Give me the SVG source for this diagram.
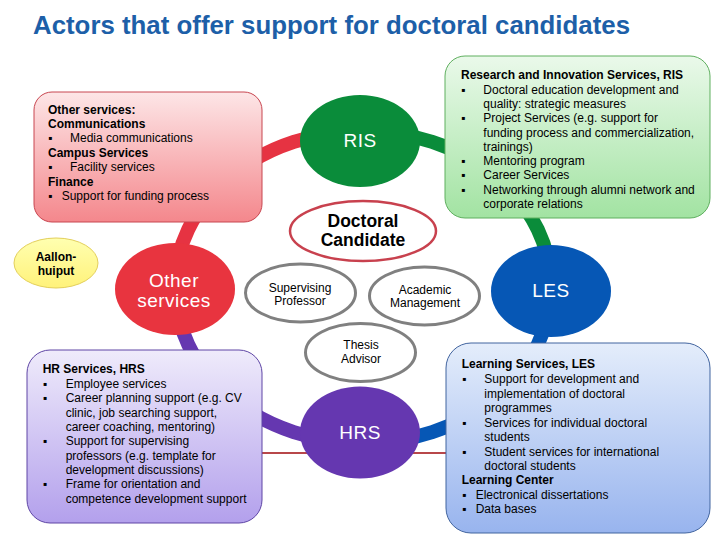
<svg xmlns="http://www.w3.org/2000/svg" width="720" height="540" viewBox="0 0 720 540">
<defs>
<linearGradient id="gRed" x1="0" y1="0" x2="0" y2="1"><stop offset="0" stop-color="#FDE6E7"/><stop offset="1" stop-color="#F4878C"/></linearGradient>
<linearGradient id="gGreen" x1="0" y1="0" x2="0" y2="1"><stop offset="0" stop-color="#EAF9EA"/><stop offset="1" stop-color="#A2E3A2"/></linearGradient>
<linearGradient id="gPurple" x1="0" y1="0" x2="0" y2="1"><stop offset="0" stop-color="#EFEBFB"/><stop offset="1" stop-color="#B3A0EC"/></linearGradient>
<linearGradient id="gBlue" x1="0" y1="0" x2="0" y2="1"><stop offset="0" stop-color="#E4EDFB"/><stop offset="1" stop-color="#98B4EE"/></linearGradient>
<linearGradient id="gYellow" x1="0" y1="0" x2="0" y2="1"><stop offset="0" stop-color="#FFFFB0"/><stop offset="1" stop-color="#FFF27A"/></linearGradient>
</defs>
<style>
text{font-family:"Liberation Sans",Arial,sans-serif;font-size:12px;fill:#000}
.b{font-weight:bold}
.ring{fill:none;stroke-width:14}
.c{font-size:19px;fill:#fff;text-anchor:middle;letter-spacing:0.5px}
.m{text-anchor:middle}
.actor{fill:#fff;stroke:#808080;stroke-width:3}
</style>
<text x="33" y="34" style="font-size:26px;font-weight:bold;fill:#1D5FA8" textLength="597" lengthAdjust="spacingAndGlyphs">Actors that offer support for doctoral candidates</text>

<g id="connectors">
<path class="ring" stroke="#E63342" d="M175,287 A188,156 0 0 1 363,131"/>
<path class="ring" stroke="#0A8C3A" d="M363,131 A188,156 0 0 1 551,287"/>
<path class="ring" stroke="#0657B5" d="M551,287 A188,156 0 0 1 363,443"/>
<path class="ring" stroke="#6537B0" d="M363,443 A188,156 0 0 1 175,287"/>
<line x1="262" y1="453" x2="447" y2="453" stroke="#B8474A" stroke-width="2"/>
</g>

<g id="box-other">
<rect x="34" y="92" width="228" height="130" rx="18" fill="url(#gRed)" stroke="#C84650" stroke-width="1"/>
<text class="b" x="48" y="113.5">Other services:</text>
<text class="b" x="48" y="127.9">Communications</text>
<text x="48" y="142.3">▪</text><text x="70" y="142.3">Media communications</text>
<text class="b" x="48" y="156.7">Campus Services</text>
<text x="48" y="171.1">▪</text><text x="70" y="171.1">Facility services</text>
<text class="b" x="48" y="185.5">Finance</text>
<text x="48" y="199.9">▪</text><text x="61.7" y="199.9">Support for funding process</text>
</g>

<g id="box-ris">
<rect x="445" y="56" width="265" height="162" rx="20" fill="url(#gGreen)" stroke="#5FAF5F" stroke-width="1"/>
<text class="b" x="461" y="79.3">Research and Innovation Services, RIS</text>
<text x="461" y="93.6">▪</text><text x="483.3" y="93.6">Doctoral education development and</text>
<text x="483.3" y="107.9">quality: strategic measures</text>
<text x="461" y="122.2">▪</text><text x="483.3" y="122.2">Project Services (e.g. support for</text>
<text x="483.3" y="136.5">funding process and commercialization,</text>
<text x="483.3" y="150.8">trainings)</text>
<text x="461" y="165.1">▪</text><text x="483.3" y="165.1">Mentoring program</text>
<text x="461" y="179.4">▪</text><text x="483.3" y="179.4">Career Services</text>
<text x="461" y="193.7">▪</text><text x="483.3" y="193.7">Networking through alumni network and</text>
<text x="483.3" y="208">corporate relations</text>
</g>

<g id="box-hrs">
<rect x="27" y="350" width="235" height="173" rx="23" fill="url(#gPurple)" stroke="#5E45A5" stroke-width="1"/>
<text class="b" x="42.7" y="373.3">HR Services, HRS</text>
<text x="42.7" y="387.7">▪</text><text x="65.7" y="387.7">Employee services</text>
<text x="42.7" y="402">▪</text><text x="65.7" y="402">Career planning support (e.g. CV</text>
<text x="65.7" y="416.5">clinic, job searching support,</text>
<text x="65.7" y="431">career coaching, mentoring)</text>
<text x="42.7" y="445.3">▪</text><text x="65.7" y="445.3">Support for supervising</text>
<text x="65.7" y="459.7">professors (e.g. template for</text>
<text x="65.7" y="474">development discussions)</text>
<text x="42.7" y="488.3">▪</text><text x="65.7" y="488.3">Frame for orientation and</text>
<text x="65.7" y="502.7">competence development support</text>
</g>

<g id="box-les">
<rect x="446" y="343" width="264" height="190" rx="25" fill="url(#gBlue)" stroke="#41649F" stroke-width="1"/>
<text class="b" x="461.7" y="368.3">Learning Services, LES</text>
<text x="462" y="383.3">▪</text><text x="484.3" y="383.3">Support for development and</text>
<text x="484.3" y="397.7">implementation of doctoral</text>
<text x="484.3" y="412">programmes</text>
<text x="462" y="426.7">▪</text><text x="484.3" y="426.7">Services for individual doctoral</text>
<text x="484.3" y="440.7">students</text>
<text x="462" y="455.7">▪</text><text x="484.3" y="455.7">Student services for international</text>
<text x="484.3" y="470">doctoral students</text>
<text class="b" x="461.7" y="484.3">Learning Center</text>
<text x="462" y="499">▪</text><text x="475.7" y="499">Electronical dissertations</text>
<text x="462" y="513.3">▪</text><text x="475.7" y="513.3">Data bases</text>
</g>

<g id="aallonhuiput">
<ellipse cx="56" cy="263" rx="42" ry="25" fill="url(#gYellow)" stroke="#E3CF5A" stroke-width="1"/>
<text class="b m" x="56" y="260.5">Aallon-</text>
<text class="b m" x="56" y="275">huiput</text>
</g>

<g id="other-services">
<ellipse cx="175" cy="289" rx="60" ry="46" fill="#E8343F"/>
<text class="c" x="174" y="286.7">Other</text>
<text class="c" x="174" y="306.7">services</text>
</g>

<g id="ris">
<ellipse cx="360" cy="141" rx="60" ry="46" fill="#0A8C3A"/>
<text class="c" x="360" y="147.3">RIS</text>
</g>

<g id="les">
<ellipse cx="551" cy="291" rx="60" ry="46" fill="#0657B5"/>
<text class="c" x="551" y="296.7">LES</text>
</g>

<g id="hrs">
<ellipse cx="360" cy="432.5" rx="60" ry="46" fill="#6537B0"/>
<text class="c" x="360" y="439">HRS</text>
</g>

<g id="doctoral-candidate">
<ellipse cx="363" cy="231" rx="73" ry="30" fill="#fff" stroke="#C8414E" stroke-width="2.5"/>
<text class="b m" x="363" y="227.3" style="font-size:17.5px">Doctoral</text>
<text class="b m" x="363" y="245.7" style="font-size:17.5px">Candidate</text>
</g>

<g id="supervising-professor">
<ellipse class="actor" cx="300.5" cy="293" rx="55" ry="29"/>
<text class="m" x="300" y="291.7">Supervising</text>
<text class="m" x="300" y="305">Professor</text>
</g>

<g id="academic-management">
<ellipse class="actor" cx="424.5" cy="296" rx="55" ry="29"/>
<text class="m" x="425" y="294">Academic</text>
<text class="m" x="425" y="306.7">Management</text>
</g>

<g id="thesis-advisor">
<ellipse class="actor" cx="360.5" cy="352.5" rx="55" ry="29"/>
<text class="m" x="361" y="349.3">Thesis</text>
<text class="m" x="361" y="362.7">Advisor</text>
</g>
</svg>
